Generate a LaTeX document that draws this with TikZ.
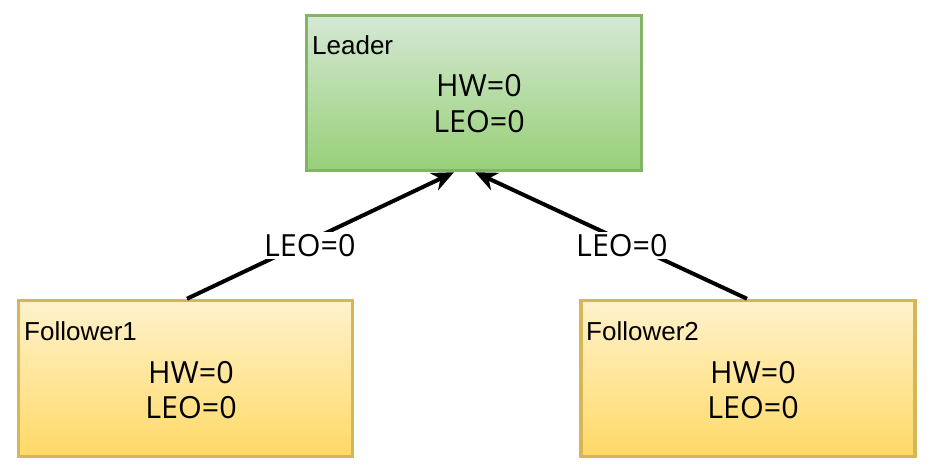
\documentclass[tikz,border=0pt]{standalone}
\usepackage{fontspec}
\setmainfont{Liberation Sans}
\newfontfamily\handfont{Open Sans}
\usetikzlibrary{arrows.meta,calc}
\definecolor{gtop}{RGB}{213,232,212}
\definecolor{gbot}{RGB}{151,208,119}
\definecolor{gline}{RGB}{130,179,102}
\definecolor{ytop}{RGB}{255,242,204}
\definecolor{ybot}{RGB}{255,217,102}
\definecolor{yline}{RGB}{214,182,86}
\tikzset{
  leaderbox/.style={rectangle, draw=gline, line width=3.5pt, top color=gtop, bottom color=gbot, minimum width=335pt, minimum height=155pt, inner sep=0pt},
  followerbox/.style={rectangle, draw=yline, line width=3.5pt, top color=ytop, bottom color=ybot, minimum width=334pt, minimum height=156pt, inner sep=0pt},
  title/.style={anchor=base west, inner sep=0pt, font=\fontsize{26}{30}\selectfont},
  val/.style={anchor=base, inner sep=0pt, font=\handfont\fontsize{30.5}{34}\selectfont},
  conn/.style={line width=4pt, -{Stealth[length=22pt,width=19pt,inset=7pt]}},
  elabel/.style={fill=white, inner sep=2pt, font=\handfont\fontsize{30.5}{34}\selectfont}
}
\begin{document}
\begin{tikzpicture}[x=1pt,y=1pt]
\useasboundingbox (0,0) rectangle (937,472);
\node[leaderbox] (L) at (474,379) {};
\node[followerbox] (F1) at (185.5,93.5) {};
\node[followerbox] (F2) at (748,93.5) {};
\node[title] (Lt) at (312,417) {Leader};
\node[val] (Lh) at (479,375) {HW=0};
\node[val] (Ll) at (479,339) {LEO=0};
\node[title] (F1t) at (24,132) {Follower1};
\node[val] (F1h) at (191,89) {HW=0};
\node[val] (F1l) at (191,54) {LEO=0};
\node[title] (F2t) at (586,132) {Follower2};
\node[val] (F2h) at (753,89) {HW=0};
\node[val] (F2l) at (753,54) {LEO=0};
\coordinate (Lin1) at ($(L.south)+(-20,0)$);
\coordinate (Lin2) at ($(L.south)+(1,0)$);
\coordinate (F1out) at ($(F1.north)+(1.5,0)$);
\coordinate (F2out) at ($(F2.north)+(-1,0)$);
\draw[conn] (F1out) -- node[elabel, pos=0.46, yshift=-5pt] (e1) {LEO=0} (Lin1);
\draw[conn] (F2out) -- node[elabel, pos=0.46, yshift=-5pt] (e2) {LEO=0} (Lin2);
\end{tikzpicture}
\end{document}
